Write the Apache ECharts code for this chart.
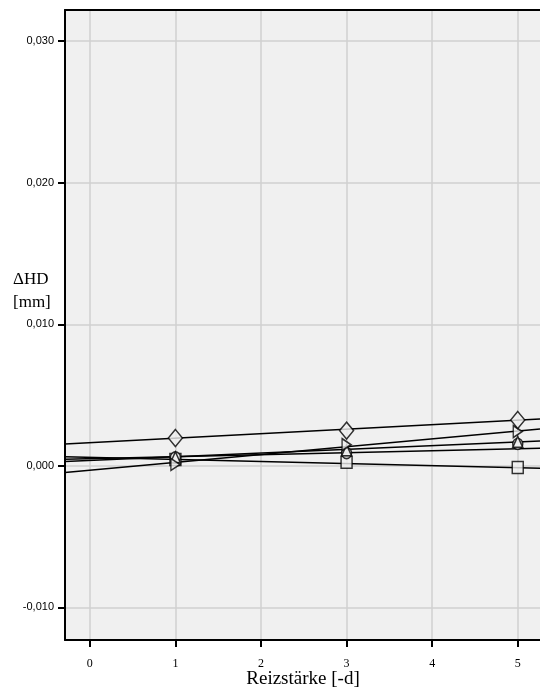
<!DOCTYPE html>
<html>
<head>
<meta charset="utf-8">
<script src="https://cdn.jsdelivr.net/npm/echarts@6/dist/echarts.min.js"></script>
<style>
  html, body { margin: 0; padding: 0; background: #ffffff; }
  #chart { width: 540px; height: 690px; }
</style>
</head>
<body>
<div id="chart"></div>
<script>
// Stimulus levels where measurements were taken
const stimulus = [1, 3, 5];

// Measured ΔHD values [mm] per group
const diamondValues  = [0.00197, 0.00249, 0.00324];
const rightTriValues = [0.00010, 0.00150, 0.00242];
const triUpValues    = [0.00060, 0.00110, 0.00170];
const circleValues   = [0.00060, 0.00090, 0.00155];
const squareValues   = [0.00045, 0.00025, -0.00012];

// Fit lines: value at the left and right edge of the x range
const xRange = [-0.29, 5.26];
const diamondFit  = [0.00155, 0.00331];
const rightTriFit = [-0.00047, 0.00260];
const triUpFit    = [0.00030, 0.00176];
const circleFit   = [0.00047, 0.00125];
const squareFit   = [0.00065, -0.00016];

// Axis tick values
const xTicks = [0, 1, 2, 3, 4, 5];
const yTicks = [-0.01, 0, 0.01, 0.02, 0.03];
const yRange = [-0.0123, 0.0322];

const chart = echarts.init(document.getElementById('chart'), null, { renderer: 'canvas' });

const markerStyle = { color: '#f0f0f0', borderColor: '#000000', borderWidth: 1.5 };

function pointsOf(values) {
  return stimulus.map((x, i) => [x, values[i]]);
}
function fitOf(ends) {
  return xRange.map((x, i) => [x, ends[i]]);
}
function fitSeries(ends) {
  return {
    type: 'line',
    data: fitOf(ends),
    symbol: 'none',
    lineStyle: { color: '#000000', width: 1.5 },
    silent: true,
    z: 2
  };
}
function markerSeries(values, symbol, size) {
  return {
    type: 'scatter',
    data: pointsOf(values),
    symbol: symbol,
    symbolSize: size,
    itemStyle: markerStyle,
    z: 3
  };
}

const option = {
  animation: false,
  backgroundColor: '#ffffff',
  grid: {
    left: 65, top: 10, right: 0, bottom: 50,
    show: true, backgroundColor: '#f0f0f0', borderWidth: 0
  },
  xAxis: [{
    type: 'value',
    min: xRange[0], max: xRange[1],
    axisLine: { show: true, onZero: false, lineStyle: { color: '#000000', width: 2 } },
    axisTick: { show: true, length: 7, customValues: xTicks, lineStyle: { color: '#000000', width: 2 } },
    axisLabel: {
      customValues: xTicks, margin: 18,
      fontFamily: 'Liberation Serif', fontSize: 12, color: '#000000',
      formatter: v => String(Math.round(v))
    },
    splitLine: { show: true, lineStyle: { color: '#d0d0d0', width: 1.5 } }
  }, {
    type: 'value',
    position: 'top',
    min: xRange[0], max: xRange[1],
    axisLine: { show: true, onZero: false, lineStyle: { color: '#000000', width: 2 } },
    axisTick: { show: false },
    axisLabel: { show: false },
    splitLine: { show: false }
  }],
  yAxis: {
    type: 'value',
    min: yRange[0], max: yRange[1],
    axisLine: { show: true, onZero: false, lineStyle: { color: '#000000', width: 2 } },
    axisTick: { show: true, length: 7, customValues: yTicks, lineStyle: { color: '#000000', width: 2 } },
    axisLabel: {
      customValues: yTicks, margin: 11,
      fontFamily: 'Liberation Sans', fontSize: 11, color: '#000000',
      formatter: v => v.toFixed(3).replace('.', ',')
    },
    splitLine: { show: true, lineStyle: { color: '#d0d0d0', width: 1.5 } }
  },
  graphic: [
    {
      type: 'text', left: 13, top: 271,
      style: { text: 'ΔHD', font: '17px "Liberation Serif"', fill: '#000000' }
    },
    {
      type: 'text', left: 13, top: 294,
      style: { text: '[mm]', font: '17px "Liberation Serif"', fill: '#000000' }
    },
    {
      type: 'text', x: 303, y: 679,
      style: {
        text: 'Reizstärke [-d]', font: '19px "Liberation Serif"', fill: '#000000',
        align: 'center', verticalAlign: 'middle'
      }
    }
  ],
  series: [
    fitSeries(diamondFit),
    fitSeries(rightTriFit),
    fitSeries(triUpFit),
    fitSeries(circleFit),
    fitSeries(squareFit),
    markerSeries(squareValues, 'rect', [11, 12]),
    markerSeries(circleValues, 'circle', [10, 11]),
    markerSeries(triUpValues, 'triangle', [10, 11]),
    markerSeries(rightTriValues, 'path://M0,0L10,5L0,10Z', [9, 12]),
    markerSeries(diamondValues, 'diamond', [14, 17])
  ]
};

chart.setOption(option);
</script>
</body>
</html>
